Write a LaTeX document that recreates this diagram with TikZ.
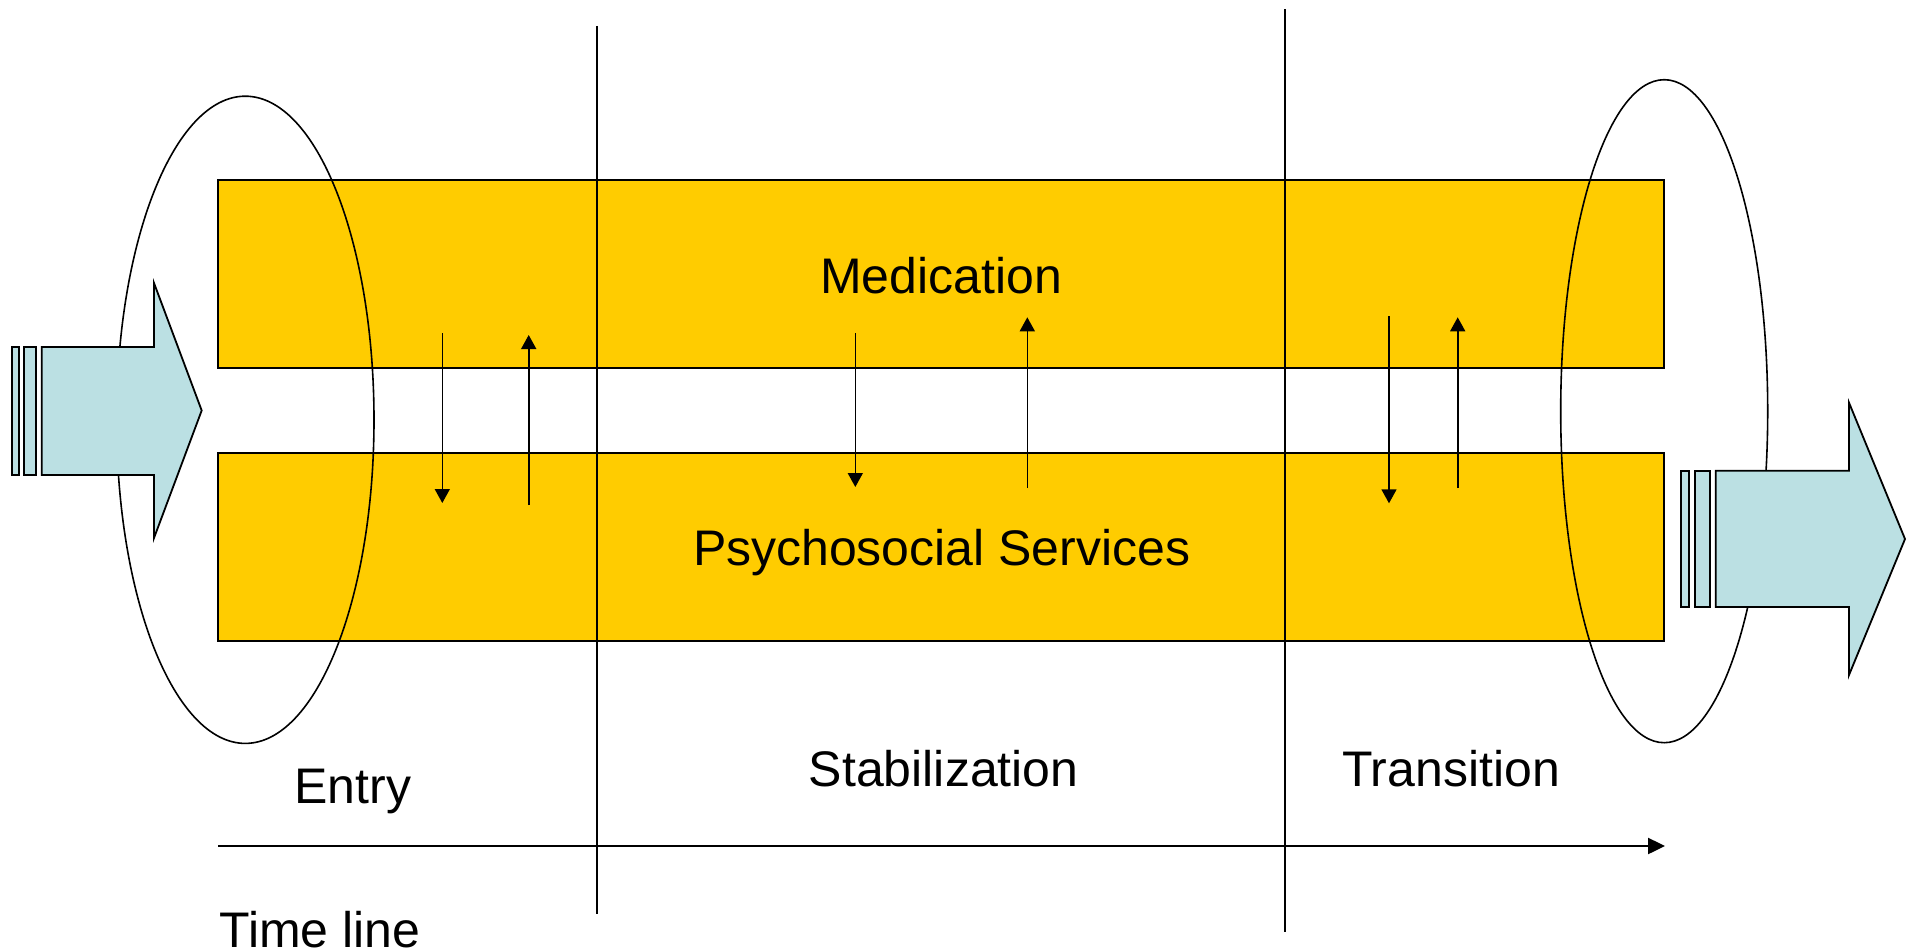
\documentclass[tikz,border=0pt]{standalone}
\usepackage{fontspec}
\setmainfont{Liberation Sans}
\usetikzlibrary{arrows.meta,shapes.geometric}
\definecolor{barY}{HTML}{FFCC00}
\definecolor{arrB}{RGB}{187,224,227}
\tikzset{
  band/.style={draw=black,line width=2pt,fill=barY,rectangle,inner sep=0pt,minimum width=1445.6pt,minimum height=188pt},
  lab/.style={inner sep=0pt,font=\fontsize{50}{60}\selectfont,anchor=base},
  ring/.style={draw=black,line width=1.6pt},
  divider/.style={draw=black,line width=1.4pt},
  flow/.style={draw=black,line width=1.6pt,-{Triangle[width=15pt,length=14pt]}},
  blue/.style={draw=black,line width=1.8pt,fill=arrB,line join=miter},
  timeline/.style={draw=black,line width=2.4pt,-{Triangle[width=16pt,length=17pt]}}
}
\begin{document}
\begin{tikzpicture}[x=1pt,y=-1pt]
\useasboundingbox (0,0) rectangle (1913,952);
% bands
\node[band] (medbox) at (941.2,274) {};
\node[band] (psybox) at (941.2,547) {};
% ellipses
\draw[ring] (245.3,419.8) ellipse [x radius=128.7pt, y radius=323.6pt];
\draw[ring] (1664.2,411.2) ellipse [x radius=103.5pt, y radius=331.5pt];
% vertical phase dividers
\coordinate (d1t) at (597,26);
\coordinate (d1b) at (597,914.3);
\coordinate (d2t) at (1285,9.3);
\coordinate (d2b) at (1285,931.7);
\draw[divider] (d1t) -- (d1b);
\draw[divider] (d2t) -- (d2b);
% texts
\node[lab] (med) at (941,293.3) {Medication};
\node[lab] (psy) at (941.7,565) {Psychosocial Services};
\node[lab] (stab) at (943.7,786.7) {Stabilization};
\node[lab] (trans) at (1451,786.7) {Transition};
\node[lab,anchor=base west] (entry) at (294.3,803.3) {Entry};
\node[lab,anchor=base west] (tl) at (219.3,947.5) {Time line};
% interaction arrows
\coordinate (a1s) at (442.3,333);  \coordinate (a1e) at (442.3,503);
\coordinate (a2s) at (528.7,505);  \coordinate (a2e) at (528.7,335);
\coordinate (a3s) at (855.3,333);  \coordinate (a3e) at (855.3,487);
\coordinate (a4s) at (1027.3,488); \coordinate (a4e) at (1027.3,317.3);
\coordinate (a5s) at (1389,316);   \coordinate (a5e) at (1389,503.3);
\coordinate (a6s) at (1457.7,488); \coordinate (a6e) at (1457.7,317.3);
\draw[flow] (a1s) -- (a1e);
\draw[flow] (a2s) -- (a2e);
\draw[flow] (a3s) -- (a3e);
\draw[flow] (a4s) -- (a4e);
\draw[flow] (a5s) -- (a5e);
\draw[flow] (a6s) -- (a6e);
% timeline
\coordinate (t0) at (218.3,846);
\coordinate (t1) at (1665,846);
\draw[timeline] (t0) -- (t1);
% left blue arrow
\draw[blue] (12,347) rectangle (18.7,475);
\draw[blue] (24.3,347) rectangle (36,475);
\draw[blue] (41.7,347) -- (154,347) -- (154,283) -- (201.7,410.5) -- (154,538) -- (154,475) -- (41.7,475) -- cycle;
% right blue arrow
\draw[blue] (1680.7,470.7) rectangle (1688.7,607);
\draw[blue] (1694.7,470.7) rectangle (1709.7,607);
\draw[blue] (1715.7,470.7) -- (1849,470.7) -- (1849,402.7) -- (1905,539) -- (1849,675) -- (1849,607) -- (1715.7,607) -- cycle;
\end{tikzpicture}
\end{document}
